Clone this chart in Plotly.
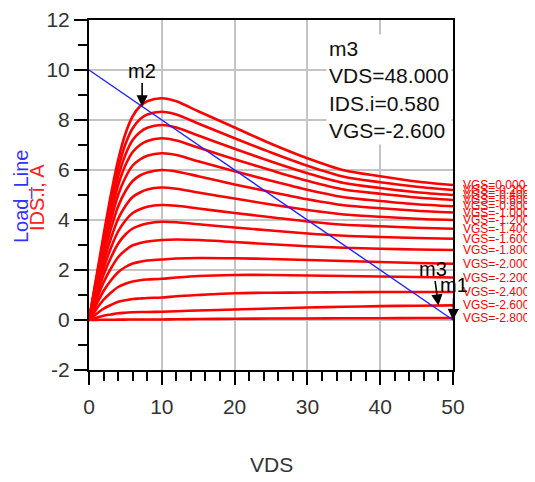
import plotly.graph_objects as go

# ---------------- data ----------------
vds = [0, 1, 2, 3, 4, 5, 6, 7, 8, 10, 12, 15, 20, 25, 30, 35, 40, 45, 50]

vgs = [0.0, -0.2, -0.4, -0.6, -0.8, -1.0, -1.2, -1.4, -1.6, -1.8, -2.0, -2.2, -2.4, -2.6, -2.8]

ids_vgs_0p0 = [0, 1.70, 3.40, 5.00, 6.40, 7.45, 8.15, 8.55, 8.75, 8.87, 8.75, 8.35, 7.70, 7.05, 6.47, 5.99, 5.75, 5.54, 5.40]
ids_vgs_0p2 = [0, 1.63, 3.25, 4.74, 6.06, 7.03, 7.67, 8.03, 8.22, 8.33, 8.22, 7.86, 7.27, 6.70, 6.17, 5.73, 5.51, 5.33, 5.20]
ids_vgs_0p4 = [0, 1.58, 3.12, 4.52, 5.73, 6.61, 7.20, 7.51, 7.69, 7.80, 7.70, 7.38, 6.85, 6.34, 5.87, 5.48, 5.28, 5.11, 5.00]
ids_vgs_0p6 = [0, 1.52, 2.98, 4.27, 5.39, 6.19, 6.72, 7.00, 7.16, 7.27, 7.18, 6.90, 6.43, 5.99, 5.57, 5.22, 5.05, 4.90, 4.80]
ids_vgs_0p8 = [0, 1.44, 2.80, 3.98, 5.00, 5.70, 6.18, 6.42, 6.57, 6.67, 6.60, 6.35, 5.95, 5.57, 5.21, 4.91, 4.76, 4.63, 4.55]
ids_vgs_1p0 = [0, 1.33, 2.58, 3.64, 4.54, 5.15, 5.56, 5.78, 5.90, 6.00, 5.94, 5.75, 5.42, 5.12, 4.83, 4.59, 4.47, 4.37, 4.30]
ids_vgs_1p2 = [0, 1.21, 2.33, 3.26, 4.04, 4.56, 4.92, 5.10, 5.22, 5.30, 5.25, 5.10, 4.86, 4.62, 4.40, 4.22, 4.13, 4.05, 4.00]
ids_vgs_1p4 = [0, 1.08, 2.07, 2.88, 3.54, 3.98, 4.28, 4.43, 4.53, 4.60, 4.57, 4.46, 4.28, 4.11, 3.94, 3.81, 3.75, 3.69, 3.65]
ids_vgs_1p6 = [0, 0.95, 1.81, 2.49, 3.05, 3.42, 3.66, 3.78, 3.86, 3.93, 3.91, 3.83, 3.70, 3.58, 3.46, 3.37, 3.32, 3.28, 3.25]
ids_vgs_1p8 = [0, 0.79, 1.50, 2.06, 2.51, 2.79, 2.99, 3.08, 3.14, 3.20, 3.22, 3.20, 3.12, 3.03, 2.95, 2.89, 2.85, 2.82, 2.80]
ids_vgs_2p0 = [0, 0.61, 1.16, 1.58, 1.91, 2.12, 2.26, 2.33, 2.38, 2.42, 2.46, 2.48, 2.47, 2.44, 2.40, 2.36, 2.32, 2.28, 2.25]
ids_vgs_2p2 = [0, 0.43, 0.81, 1.09, 1.32, 1.45, 1.54, 1.59, 1.62, 1.65, 1.70, 1.76, 1.80, 1.80, 1.78, 1.76, 1.74, 1.72, 1.70]
ids_vgs_2p4 = [0, 0.24, 0.45, 0.60, 0.73, 0.79, 0.84, 0.86, 0.88, 0.90, 0.95, 1.00, 1.07, 1.09, 1.10, 1.11, 1.12, 1.12, 1.12]
ids_vgs_2p6 = [0, 0.09, 0.17, 0.22, 0.27, 0.29, 0.31, 0.32, 0.32, 0.33, 0.35, 0.38, 0.42, 0.46, 0.50, 0.53, 0.555, 0.572, 0.585]
ids_vgs_2p8 = [0, 0.005, 0.01, 0.01, 0.015, 0.015, 0.02, 0.02, 0.02, 0.02, 0.03, 0.04, 0.05, 0.06, 0.06, 0.07, 0.07, 0.08, 0.08]

ids_curves = [ids_vgs_0p0, ids_vgs_0p2, ids_vgs_0p4, ids_vgs_0p6, ids_vgs_0p8,
              ids_vgs_1p0, ids_vgs_1p2, ids_vgs_1p4, ids_vgs_1p6, ids_vgs_1p8,
              ids_vgs_2p0, ids_vgs_2p2, ids_vgs_2p4, ids_vgs_2p6, ids_vgs_2p8]

load_vds = [0, 50]
load_ids = [10, 0]

marker_names = ["m1", "m2", "m3"]
marker_vds = [50, 7.3, 48]
marker_ids = [0.0, 8.54, 0.58]

x_ticks = [0, 10, 20, 30, 40, 50]
x_ticktext = ["0", "10", "20", "30", "40", "50"]
y_ticks = [-2, 0, 2, 4, 6, 8, 10, 12]
y_ticktext = ["-2", "0", "2", "4", "6", "8", "10", "12"]

info_lines = ["m3", "VDS=48.000", "IDS.i=0.580", "VGS=-2.600"]

# ---------------- figure ----------------
FONT = "Liberation Sans, Arial, sans-serif"
OFF = 8                         # the page body margin shifts the figure by 8 px
W, H = 535 - OFF, 482 - OFF
# plot-area box in window pixels, converted to figure pixels
L, R, T, B = 89 - OFF, 453 - OFF, 20 - OFF, 370 - OFF


def px_to_paper(px, py):
    """window pixel -> paper coordinate"""
    return (px - OFF - L) / (R - L), (B - (py - OFF)) / (B - T)


fig = go.Figure()

for v, ys in zip(vgs, ids_curves):
    fig.add_trace(go.Scatter(
        x=vds, y=ys, mode="lines",
        line=dict(color="#ff0000", width=2.6, shape="spline", smoothing=0.8),
        name=f"VGS={v:.3f}", showlegend=False, hoverinfo="skip"))

fig.add_trace(go.Scatter(
    x=load_vds, y=load_ids, mode="lines",
    line=dict(color="#2020ff", width=1.4), showlegend=False, hoverinfo="skip"))

annotations = []
# curve end labels
for v, ys in zip(vgs, ids_curves):
    annotations.append(dict(
        x=vds[-1], y=ys[-1], xref="x", yref="y", text=f"VGS={v:.3f}",
        showarrow=False, xanchor="left", yanchor="middle", xshift=8,
        font=dict(family=FONT, size=12, color="#ff0000")))

# markers
offsets = {"m1": (1, -35), "m2": (0, -36), "m3": (-5, -37)}
for n, mx, my in zip(marker_names, marker_vds, marker_ids):
    ax, ay = offsets[n]
    annotations.append(dict(
        x=mx, y=my, xref="x", yref="y", text=n, showarrow=True,
        ax=ax, ay=ay, arrowhead=2, arrowsize=1.4, arrowwidth=1.6,
        arrowcolor="black", standoff=0, startstandoff=0,
        font=dict(family=FONT, size=20, color="black")))

# info box
bx, by = px_to_paper(326, 34)
annotations.append(dict(
    x=bx, y=by, xref="paper", yref="paper",
    text="<br>".join(info_lines), showarrow=False, align="left",
    xanchor="left", yanchor="top", bgcolor="white", borderpad=2,
    font=dict(family=FONT, size=21, color="#111111")))

# y-axis titles
for txt, cx, cy, col in [("Load_Line", 21, 197, "#3333ff"), ("IDS.i, A", 37, 198, "#ff2020")]:
    px_, py_ = px_to_paper(cx, cy)
    annotations.append(dict(
        x=px_, y=py_, xref="paper", yref="paper", text=txt, textangle=-90,
        xanchor="center", yanchor="middle",
        showarrow=False, font=dict(family=FONT, size=20, color=col)))

# x-axis title
tx, ty = px_to_paper(271, 464)
annotations.append(dict(
    x=tx, y=ty, xref="paper", yref="paper", text="VDS",
    xanchor="center", yanchor="middle", showarrow=False,
    font=dict(family=FONT, size=21, color="#333333")))

fig.update_layout(
    width=W, height=H,
    margin=dict(l=L, r=W - R, t=T, b=H - B, autoexpand=False),
    paper_bgcolor="white", plot_bgcolor="white",
    showlegend=False,
    annotations=annotations,
    font=dict(family=FONT, size=21, color="#222222"),
)

fig.update_xaxes(
    range=[0, 50], tickvals=x_ticks, ticktext=x_ticktext, ticks="outside",
    ticklen=13, tickwidth=2, automargin=False,
    tickcolor="black", showline=True, linecolor="black", linewidth=2, mirror=True,
    showgrid=True, gridcolor="#c4c4c4", gridwidth=1.5, zeroline=False,
    minor=dict(dtick=2, ticks="outside", ticklen=9, tickwidth=2, tickcolor="black", showgrid=False),
    ticklabelstandoff=4,
    tickfont=dict(family=FONT, size=21, color="#333333"),
)
fig.update_yaxes(
    range=[-2, 12], tickvals=y_ticks, ticktext=y_ticktext, ticks="outside",
    ticklen=13, tickwidth=2, automargin=False,
    tickcolor="black", showline=True, linecolor="black", linewidth=2, mirror=True,
    showgrid=True, gridcolor="#c4c4c4", gridwidth=1.5, zeroline=False,
    minor=dict(dtick=1, ticks="outside", ticklen=9, tickwidth=2, tickcolor="black", showgrid=False),
    tickfont=dict(family=FONT, size=21, color="#333333"),
)

fig.write_html("out.html")
